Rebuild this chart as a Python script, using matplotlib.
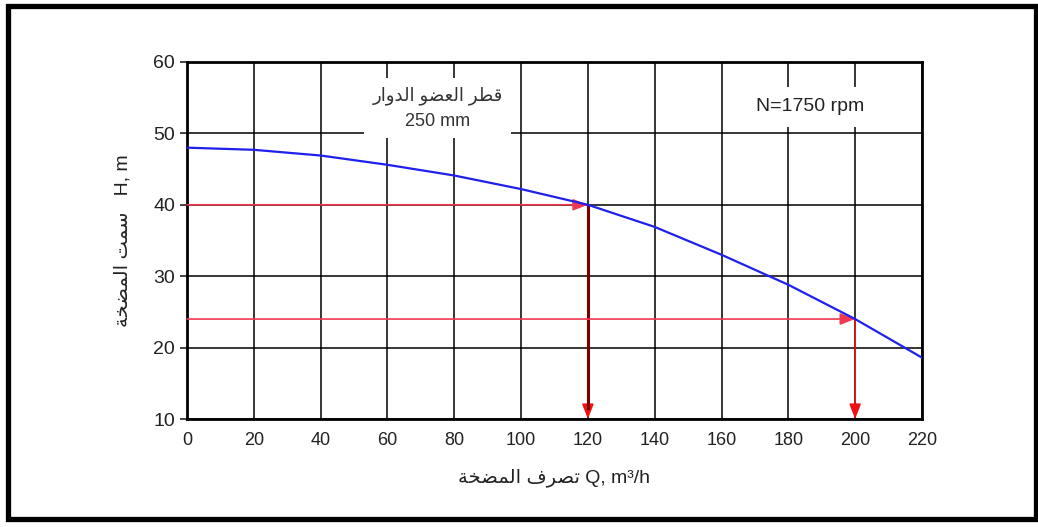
import matplotlib
matplotlib.use('Agg')
import matplotlib.pyplot as plt
from matplotlib.patches import Rectangle

plt.rcParams['font.family'] = ['Liberation Sans', 'DejaVu Sans']

# Pump curve (impeller 250 mm, 1750 rpm)
q = [0, 20, 40, 60, 80, 100, 120, 140, 160, 180, 200, 220]
h = [48.0, 47.7, 46.9, 45.6, 44.1, 42.2, 40.0, 36.9, 33.0, 28.8, 24.0, 18.6]

# Operating points marked with arrows
op_q = [120, 200]
op_h = [40, 24]

x_ticks = list(range(0, 221, 20))
y_ticks = [10, 20, 30, 40, 50, 60]

# Arabic written with presentation forms in visual order (no shaping in matplotlib)
ar_qutr = '\uFEAD\uFE8D\uFEED\uFEAA\uFEDF\uFE8D \uFEEE\uFEC0\uFECC\uFEDF\uFE8D \uFEAE\uFEC4\uFED7'
ar_head = '\uFE94\uFEA8\uFEC0\uFEE4\uFEDF\uFE8D \uFE96\uFEE4\uFEB3'
ar_flow = '\uFE94\uFEA8\uFEC0\uFEE4\uFEDF\uFE8D \uFED1\uFEAE\uFEBC\uFE97'

fig = plt.figure(figsize=(10.38, 5.27), dpi=100)
ax = fig.add_axes([0.1802, 0.2049, 0.708, 0.6775])

ax.set_xlim(0, 220)
ax.set_ylim(10, 60)
ax.set_xticks(x_ticks)
ax.set_yticks(y_ticks)
ax.grid(True, color='black', linewidth=1.1)
ax.set_axisbelow(True)
for s in ax.spines.values():
    s.set_linewidth(2)
ax.tick_params(axis='y', length=5, width=1.2, labelsize=14, colors='#222222')
ax.tick_params(axis='x', length=0, labelsize=13, pad=9, colors='#222222')

# text boxes
ax.text(75, 53.5, ar_qutr + '\n250 mm', ha='center', va='center', fontsize=13,
        color='#333333', linespacing=1.6,
        bbox=dict(facecolor='white', edgecolor='none', pad=6), zorder=3)
ax.text(186.5, 53.7, 'N=1750 rpm', ha='center', va='center', fontsize=14,
        color='#222222', bbox=dict(facecolor='white', edgecolor='none', pad=8), zorder=3)

# red guide lines with arrows
for i, (qq, hh) in enumerate(zip(op_q, op_h)):
    ax.annotate('', xy=(qq, hh), xytext=(0, hh),
                arrowprops=dict(arrowstyle='-|>,head_length=0.9,head_width=0.35',
                                color='#f03850', lw=1.2, shrinkA=0, shrinkB=0), zorder=4)
    ax.annotate('', xy=(qq, 10), xytext=(qq, hh),
                arrowprops=dict(arrowstyle='-|>,head_length=0.9,head_width=0.35',
                                color='#ee1111', lw=1.2, shrinkA=0, shrinkB=0), zorder=4)
    if i == 0:
        ax.plot([qq, qq], [hh, 11.5], color='#7a0000', lw=2.2, zorder=4)

ax.plot(q, h, color='#2020ee', lw=1.6, zorder=5)

ax.set_xlabel(ar_flow + ' Q, m\u00b3/h', fontsize=14, color='#222222', labelpad=14)
ax.set_ylabel(ar_head + '   H, m', fontsize=14, color='#222222', labelpad=16)

# outer frame
fig.patches.append(Rectangle((0.0077, 0.0145), 0.9903, 0.9735, transform=fig.transFigure,
                             fill=False, edgecolor='black', linewidth=3.8))

fig.savefig('out.png', dpi=100)
